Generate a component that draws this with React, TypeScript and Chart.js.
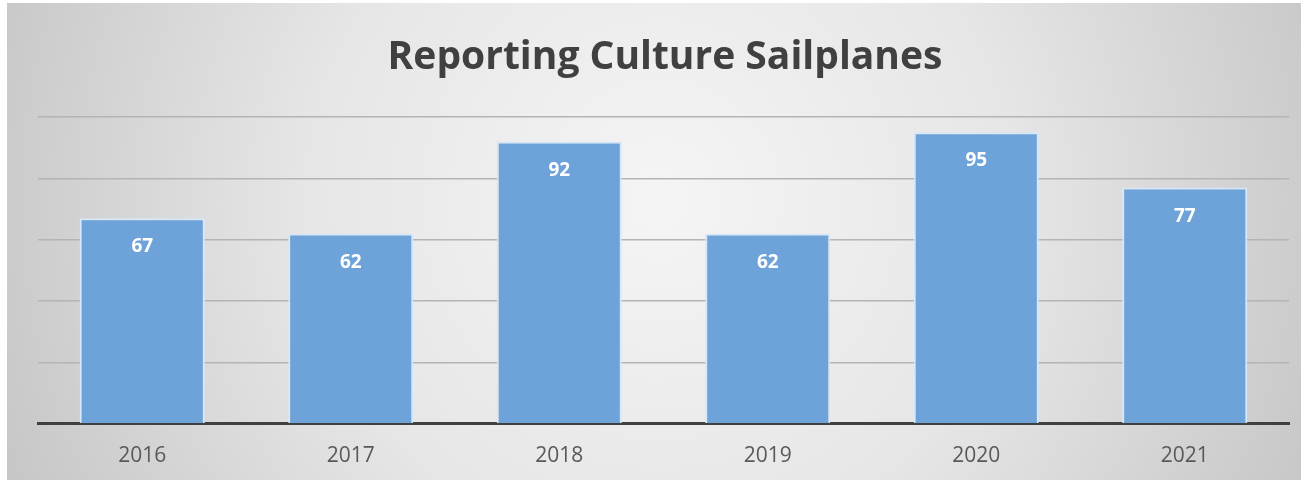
import React, { useEffect, useRef } from "react";
import { Chart, registerables } from "chart.js";

Chart.register(...registerables);

const titleText = "Reporting Culture Sailplanes";
const years = ["2016", "2017", "2018", "2019", "2020", "2021"];
const scores = [67, 62, 92, 62, 95, 77];
const yMax = 100;
const yStep = 20;

const bgPlugin = {
  id: "bgPlugin",
  beforeDraw(chart: any) {
    const { ctx, width, height } = chart;
    ctx.save();
    ctx.fillStyle = "#ffffff";
    ctx.fillRect(0, 0, width, height);
    const x0 = 7, y0 = 3, x1 = width, y1 = 480;
    const g = ctx.createRadialGradient(660, 200, 20, 660, 200, 760);
    g.addColorStop(0, "#f4f4f4");
    g.addColorStop(0.45, "#e6e6e6");
    g.addColorStop(1, "#c2c2c2");
    ctx.fillStyle = g;
    ctx.fillRect(x0, y0, x1 - x0, y1 - y0);
    ctx.restore();
  },
};

const labelPlugin = {
  id: "labelPlugin",
  afterDatasetsDraw(chart: any) {
    const { ctx } = chart;
    ctx.save();
    ctx.fillStyle = "#404040";
    ctx.font = "bold 39px 'Open Sans', sans-serif";
    ctx.textAlign = "center";
    ctx.textBaseline = "alphabetic";
    ctx.fillText(titleText, 665, 69);
    const meta = chart.getDatasetMeta(0);
    ctx.fillStyle = "#ffffff";
    ctx.font = "bold 19px 'Open Sans', sans-serif";
    meta.data.forEach((bar: any, i: number) => {
      ctx.fillText(String(scores[i]), bar.x, bar.y + 34);
    });
    ctx.restore();
  },
};

export default function App() {
  const ref = useRef<HTMLCanvasElement>(null);
  useEffect(() => {
    const chart = new Chart(ref.current!, {
      type: "bar",
      data: {
        labels: years,
        datasets: [
          {
            data: scores,
            backgroundColor: "#6ea3d9",
            borderColor: "#d6e8f7",
            borderWidth: 2,
            borderSkipped: "bottom",
            barPercentage: 0.6,
            categoryPercentage: 1,
          },
        ],
      },
      options: {
        animation: false,
        responsive: false,
        maintainAspectRatio: false,
        layout: { padding: { top: 117, left: 38, right: 12, bottom: 2 } },
        plugins: {
          legend: { display: false },
          title: { display: false },
          tooltip: { enabled: false },
        },
        scales: {
          x: {
            grid: { display: false },
            border: { display: true, color: "#404040", width: 3 },
            ticks: {
              color: "#595959",
              font: { family: "'Open Sans', sans-serif", size: 21 },
              padding: 12,
            },
          },
          y: {
            min: 0,
            max: yMax,
            ticks: { display: false, stepSize: yStep },
            border: { display: false },
            grid: { color: "#b4b4b4", lineWidth: 1.5, drawTicks: false },
          },
        },
      },
      plugins: [bgPlugin, labelPlugin],
    });
    return () => chart.destroy();
  }, []);
  return (
    <div style={{ position: "fixed", left: 0, top: 0, width: 1301, height: 483 }}>
      <canvas ref={ref} width={1301} height={483} style={{ display: "block" }} />
    </div>
  );
}
